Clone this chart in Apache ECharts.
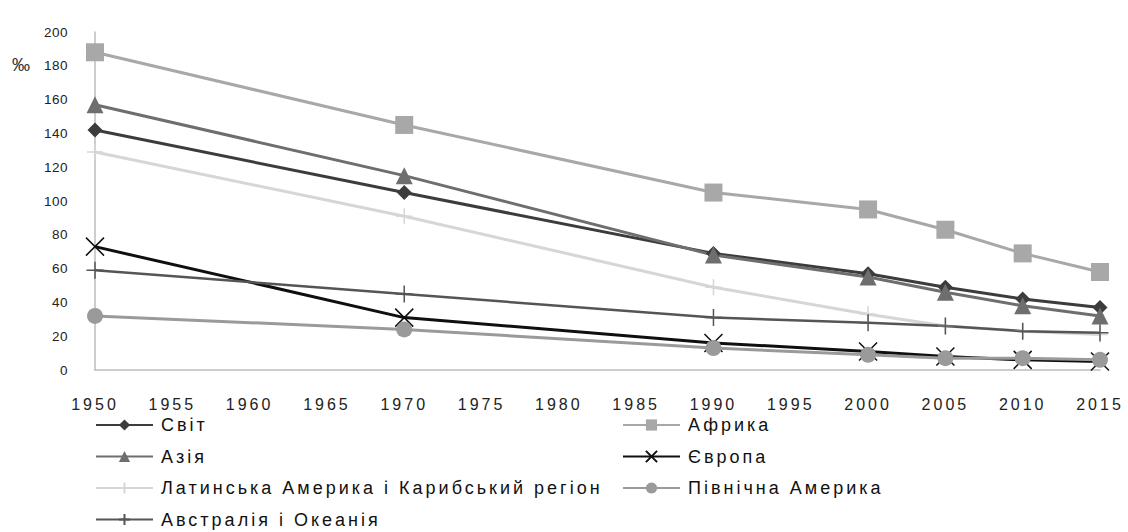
<!DOCTYPE html>
<html>
<head>
<meta charset="utf-8">
<script src="https://cdn.jsdelivr.net/npm/echarts@6/dist/echarts.min.js"></script>
<style>
html,body{margin:0;padding:0;background:#fff;}
#chart{width:1128px;height:532px;}
#chart text{letter-spacing:3px;}
#chart text[style*="13.5px"]{letter-spacing:0.5px;}
</style>
</head>
<body>
<div id="chart"></div>
<script>
// Years of observation
const years = [1950, 1970, 1990, 2000, 2005, 2010, 2015];
// Infant mortality, ‰
const svit      = [142, 105, 69, 57, 49, 42, 37];
const afryka    = [188, 145, 105, 95, 83, 69, 58];
const aziya     = [157, 115, 68, 55, 46, 38, 32];
const yevropa   = [73, 31, 16, 11, 8, 6, 5];
const latAm     = [129, 91, 49, 33, 26, 23, 21];
const pnAm      = [32, 24, 13, 9, 7, 7, 6];
const avstr     = [59, 45, 31, 28, 26, 23, 22];
// Axis ticks
const yTicks = [0, 20, 40, 60, 80, 100, 120, 140, 160, 180, 200];
const xTickStart = 1950, xTickEnd = 2015, xTickStep = 5;

const names = {
  svit: 'Світ', afryka: 'Африка', aziya: 'Азія', yevropa: 'Європа',
  latAm: 'Латинська Америка і Карибський регіон', pnAm: 'Північна Америка',
  avstr: 'Австралія і Океанія'
};

function pairs(vals){ return years.map((y,i)=>[y, vals[i]]); }

const crossPath = 'path://M0,0L10,10M10,0L0,10';
const plusPath = 'path://M5,0L5,10M0,5L10,5';

function mk(name, vals, color, symbol, size, width, extra){
  const s = {
    name: name, type: 'line', data: pairs(vals),
    symbol: symbol, symbolSize: size,
    lineStyle: {color: color, width: width},
    itemStyle: {color: color},
    emphasis: {disabled: true},
    z: 2
  };
  if (extra) Object.assign(s, extra);
  return s;
}

const chart = echarts.init(document.getElementById('chart'), null, {renderer: 'svg'});
const legendText = {fontFamily: 'Liberation Sans, Arial, sans-serif', fontSize: 18, color: '#111', padding: [0,0,0,3]};
chart.setOption({
  animation: false,
  backgroundColor: '#ffffff',
  grid: {left: 95, right: 28, top: 32, bottom: 162, containLabel: false},
  xAxis: {
    type: 'value', min: xTickStart, max: xTickEnd, interval: xTickStep,
    axisLine: {show: true, lineStyle: {color: '#bdbdbd', width: 1.5}},
    axisTick: {show: false},
    splitLine: {show: false},
    axisLabel: {margin: 26, fontFamily: 'Liberation Sans, Arial, sans-serif', fontSize: 16, color: '#222', formatter: v => String(v)}
  },
  yAxis: {
    type: 'value', min: yTicks[0], max: yTicks[yTicks.length-1], interval: yTicks[1]-yTicks[0],
    axisLine: {show: true, lineStyle: {color: '#bdbdbd', width: 1.5}},
    axisTick: {show: false},
    splitLine: {show: false},
    axisLabel: {margin: 27, fontFamily: 'Liberation Sans, Arial, sans-serif', fontSize: 13.5, color: '#222'}
  },
  graphic: [{
    type: 'text', left: 12, top: 56,
    style: {text: '‰', font: '18px Liberation Sans, sans-serif', fill: '#333'}
  }],
  legend: [
    {
      data: [names.svit, names.aziya, names.latAm, names.avstr],
      orient: 'vertical', left: 95, top: 416, itemWidth: 57, itemHeight: 14, itemGap: 13.5,
      textStyle: legendText, padding: 0
    },
    {
      data: [names.afryka, names.yevropa, names.pnAm],
      orient: 'vertical', left: 622, top: 416, itemWidth: 57, itemHeight: 14, itemGap: 13.5,
      textStyle: legendText, padding: 0
    }
  ],
  series: [
    mk(names.svit, svit, '#3c3c3c', 'diamond', 15, 3),
    mk(names.afryka, afryka, '#a8a8a8', 'rect', 18, 3),
    mk(names.aziya, aziya, '#6e6e6e', 'triangle', 17, 3),
    mk(names.yevropa, yevropa, '#0f0f0f', crossPath, 18, 3, {itemStyle: {color: '#0f0f0f', borderColor: '#0f0f0f', borderWidth: 1.5}}),
    mk(names.latAm, latAm, '#d6d6d6', plusPath, 16, 3, {itemStyle: {color: '#d6d6d6', borderColor: '#d6d6d6', borderWidth: 1.5}}),
    mk(names.pnAm, pnAm, '#9a9a9a', 'circle', 16, 3),
    mk(names.avstr, avstr, '#555555', plusPath, 17, 2.5, {itemStyle: {color: '#555555', borderColor: '#555555', borderWidth: 1.5}})
  ]
});
</script>
</body>
</html>
